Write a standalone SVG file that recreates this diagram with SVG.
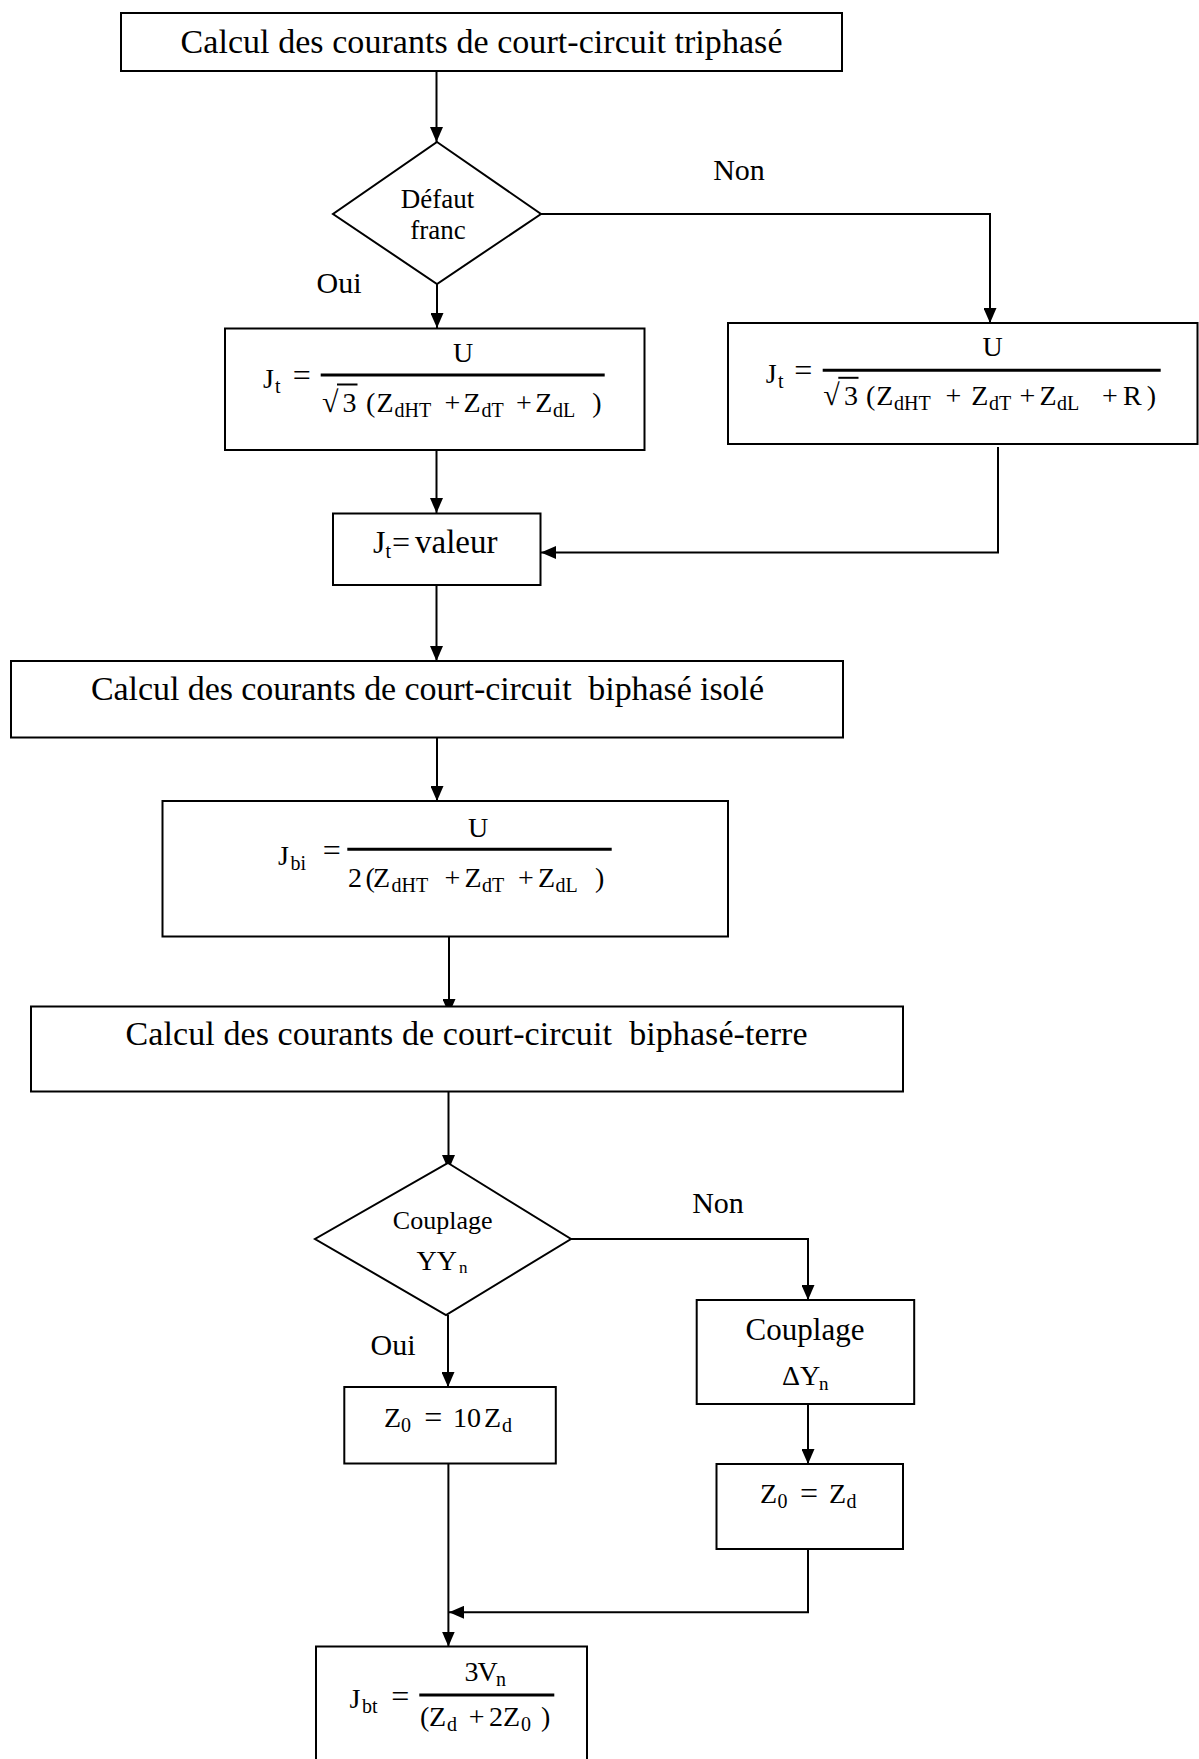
<svg xmlns="http://www.w3.org/2000/svg" width="1199" height="1759" viewBox="0 0 1199 1759">
<style>
.box{fill:#fff;stroke:#000;stroke-width:2}
.conn{fill:none;stroke:#000;stroke-width:2}
.bar{stroke:#000;stroke-width:3}
.ov{stroke:#000;stroke-width:2}
text{font-family:"Liberation Serif","Times New Roman",serif;fill:#000}
.title{font-size:34px;white-space:pre}
.lbl{font-size:30px;text-anchor:middle}
.m{font-size:28px}
.s{font-size:20px}
.eq{font-size:32px;text-anchor:middle}
.rad{font-size:30px}
.mid{text-anchor:middle}
</style>
<defs>
<marker id="ah" markerUnits="userSpaceOnUse" markerWidth="16" markerHeight="13" refX="15" refY="6.5" orient="auto">
<path d="M0,0 L15,6.5 L0,13 z" fill="#000"/>
</marker>
</defs>
<rect width="1199" height="1759" fill="#fff"/>

<g id="connectors">
<path class="conn" d="M436.5,71 V142" marker-end="url(#ah)"/>
<path class="conn" d="M437,284 V328" marker-end="url(#ah)"/>
<path class="conn" d="M541,214 H990 V323" marker-end="url(#ah)"/>
<path class="conn" d="M436.5,450 V513" marker-end="url(#ah)"/>
<path class="conn" d="M998,447 V552.5 H541" marker-end="url(#ah)"/>
<path class="conn" d="M436.5,585 V661" marker-end="url(#ah)"/>
<path class="conn" d="M437,737.5 V801" marker-end="url(#ah)"/>
<path class="conn" d="M449,936.5 V1014" marker-end="url(#ah)"/>
<path class="conn" d="M448.5,1091.5 V1170" marker-end="url(#ah)"/>
<path class="conn" d="M571,1239 H808 V1300" marker-end="url(#ah)"/>
<path class="conn" d="M448,1315 V1387" marker-end="url(#ah)"/>
<path class="conn" d="M808,1404 V1464" marker-end="url(#ah)"/>
<path class="conn" d="M448.4,1463.5 V1646.5" marker-end="url(#ah)"/>
<path class="conn" d="M808,1549 V1612.3 H449" marker-end="url(#ah)"/>
</g>

<g id="labels">
<text class="lbl" x="739" y="180">Non</text>
<text class="lbl" x="339" y="293">Oui</text>
<text class="lbl" x="718" y="1212.7">Non</text>
<text class="lbl" x="393" y="1355">Oui</text>
</g>

<g id="n_title1">
<rect class="box" x="121" y="13" width="721" height="58"/>
<text class="title mid" x="481.5" y="53" textLength="602">Calcul des courants de court-circuit triphasé</text>
</g>

<g id="n_defaut">
<polygon class="box" points="437,142 541,214 437,284 333,214"/>
<text class="mid" style="font-size:27px" x="437.6" y="208">Défaut</text>
<text class="mid" style="font-size:27px" x="438" y="239">franc</text>
</g>

<g id="n_jt_left">
<rect class="box" x="225" y="328.5" width="419.5" height="121.5"/>
<text class="m" x="263" y="388">J</text>
<text class="s" x="275" y="393">t</text>
<text class="eq" x="301.8" y="386">=</text>
<line class="bar" x1="320.7" y1="375" x2="604.7" y2="375"/>
<text class="m mid" x="463" y="362">U</text>
<text class="rad" x="322" y="412">√</text>
<text class="m" x="342.5" y="412">3</text>
<line class="ov" x1="337" y1="384.5" x2="357.5" y2="384.5"/>
<text class="m" x="366" y="412">(</text>
<text class="m" x="376.5" y="412">Z</text>
<text class="s" x="394.5" y="417">dHT</text>
<text class="m mid" x="452.3" y="412">+</text>
<text class="m" x="463.5" y="412">Z</text>
<text class="s" x="481.5" y="417">dT</text>
<text class="m mid" x="524" y="412">+</text>
<text class="m" x="535.2" y="412">Z</text>
<text class="s" x="553" y="417">dL</text>
<text class="m" x="592.3" y="412">)</text>
</g>

<g id="n_jt_right">
<rect class="box" x="728" y="323" width="469.5" height="121"/>
<text class="m" x="765.7" y="383">J</text>
<text class="s" x="778" y="388">t</text>
<text class="eq" x="803.3" y="381">=</text>
<line class="bar" x1="822.7" y1="370.3" x2="1160.7" y2="370.3"/>
<text class="m mid" x="992.5" y="356.3">U</text>
<text class="rad" x="823.3" y="405.3">√</text>
<text class="m" x="844" y="405.3">3</text>
<line class="ov" x1="838.3" y1="377.8" x2="858.5" y2="377.8"/>
<text class="m" x="866" y="405.3">(</text>
<text class="m" x="876.2" y="405.3">Z</text>
<text class="s" x="894" y="410.3">dHT</text>
<text class="m mid" x="953.3" y="405.3">+</text>
<text class="m" x="971.2" y="405.3">Z</text>
<text class="s" x="989" y="410.3">dT</text>
<text class="m mid" x="1027.5" y="405.3">+</text>
<text class="m" x="1039.5" y="405.3">Z</text>
<text class="s" x="1057" y="410.3">dL</text>
<text class="m mid" x="1110" y="405.3">+</text>
<text class="m" x="1123" y="405.3">R</text>
<text class="m" x="1146.7" y="405.3">)</text>
</g>

<g id="n_jt_valeur">
<rect class="box" x="333" y="513.5" width="207.5" height="71.5"/>
<text style="font-size:32px" x="373" y="553.3">J</text>
<text style="font-size:20px" x="385.5" y="558">t</text>
<text style="font-size:32px" x="392" y="553.3">=</text>
<text style="font-size:33px" x="415" y="553.3">valeur</text>
</g>

<g id="n_title2">
<rect class="box" x="11" y="661" width="832" height="76.5"/>
<text class="title mid" x="427.5" y="700" textLength="673">Calcul des courants de court-circuit  biphasé isolé</text>
</g>

<g id="n_jbi">
<rect class="box" x="162.5" y="801" width="565.5" height="135.5"/>
<text class="m" x="278" y="865">J</text>
<text class="s" x="290.5" y="870">bi</text>
<text class="eq" x="331.7" y="861">=</text>
<line class="bar" x1="347.3" y1="849.3" x2="611.7" y2="849.3"/>
<text class="m mid" x="478" y="837.3">U</text>
<text class="m" x="348" y="887.3">2</text>
<text class="m" x="365.5" y="887.3">(</text>
<text class="m" x="373" y="887.3">Z</text>
<text class="s" x="391.5" y="892.3">dHT</text>
<text class="m mid" x="452.5" y="887.3">+</text>
<text class="m" x="464.5" y="887.3">Z</text>
<text class="s" x="482" y="892.3">dT</text>
<text class="m mid" x="525.8" y="887.3">+</text>
<text class="m" x="538" y="887.3">Z</text>
<text class="s" x="555.5" y="892.3">dL</text>
<text class="m" x="595" y="887.3">)</text>
</g>

<g id="n_title3">
<rect class="box" x="31" y="1006.5" width="872" height="85"/>
<text class="title mid" x="466.6" y="1045" textLength="682">Calcul des courants de court-circuit  biphasé-terre</text>
</g>

<g id="n_couplage_yy">
<polygon class="box" points="448,1163 571,1239 446,1315 315,1239"/>
<text class="mid" style="font-size:26px" x="442.7" y="1229">Couplage</text>
<text style="font-size:28px" x="416.5" y="1270">YY</text>
<text style="font-size:17px" x="459" y="1273">n</text>
</g>

<g id="n_couplage_dy">
<rect class="box" x="696.7" y="1300" width="217.5" height="104"/>
<text class="mid" style="font-size:31px" x="805" y="1340">Couplage</text>
<text style="font-size:28px" x="782" y="1385">ΔY</text>
<text style="font-size:19px" x="819" y="1390">n</text>
</g>

<g id="n_z0_10zd">
<rect class="box" x="344.3" y="1387" width="211.5" height="76.5"/>
<text class="m" x="384" y="1426.7">Z</text>
<text class="s" x="401" y="1431.7">0</text>
<text class="eq" x="433.3" y="1427.5">=</text>
<text class="m" x="453" y="1426.7">10</text>
<text class="m" x="484" y="1426.7">Z</text>
<text class="s" x="502" y="1431.7">d</text>
</g>

<g id="n_z0_zd">
<rect class="box" x="716.5" y="1464" width="186.5" height="85"/>
<text class="m" x="760" y="1502.7">Z</text>
<text class="s" x="777.5" y="1507.7">0</text>
<text class="eq" x="809" y="1503.5">=</text>
<text class="m" x="829" y="1502.7">Z</text>
<text class="s" x="846.5" y="1507.7">d</text>
</g>

<g id="n_jbt">
<rect class="box" x="316" y="1646.5" width="271" height="125"/>
<text class="m" x="349.5" y="1708.3">J</text>
<text class="s" x="362" y="1713.3">bt</text>
<text class="eq" x="400.3" y="1707">=</text>
<line class="bar" x1="419.3" y1="1695" x2="554.3" y2="1695"/>
<text class="m" x="464.5" y="1680.7">3</text>
<text class="m" x="477.5" y="1680.7">V</text>
<text class="s" x="496" y="1686">n</text>
<text class="m" x="420" y="1726">(</text>
<text class="m" x="429" y="1726">Z</text>
<text class="s" x="447" y="1731">d</text>
<text class="m mid" x="476.7" y="1726">+</text>
<text class="m" x="489" y="1726">2</text>
<text class="m" x="503" y="1726">Z</text>
<text class="s" x="521" y="1731">0</text>
<text class="m" x="541" y="1726">)</text>
</g>
</svg>
